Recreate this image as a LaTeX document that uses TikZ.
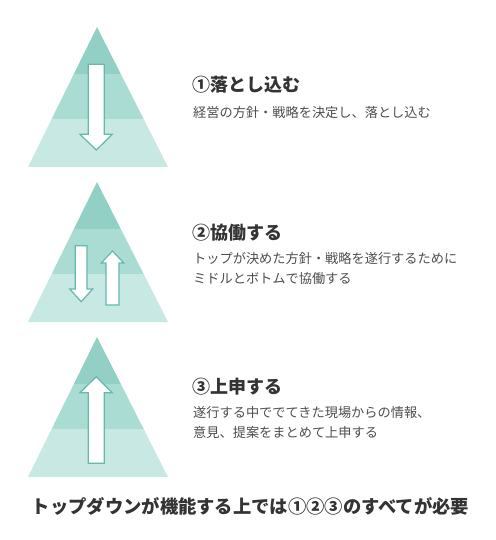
\documentclass[tikz,border=0pt]{standalone}
\usepackage{fontspec}
\setmainfont{Noto Sans CJK JP}
\usetikzlibrary{positioning}

\definecolor{bandtop}{HTML}{92CFC5}
\definecolor{bandmid}{HTML}{AADCD4}
\definecolor{bandlow}{HTML}{C8E8E3}
\definecolor{arrowline}{HTML}{66B8AA}
\definecolor{inkdark}{HTML}{333333}
\definecolor{inkgray}{HTML}{4D4D4D}

\begin{document}
\begin{tikzpicture}[x=1pt, y=-1pt,
	blockarrow/.style={draw=arrowline, fill=white, line width=1.2pt, line join=miter},
	titel/.style={anchor=west, inner sep=0pt, text=inkdark, font=\fontsize{18}{20}\selectfont\bfseries},
	beschr/.style={anchor=west, inner sep=0pt, text=inkgray, align=left, font=\fontsize{13.2}{20}\selectfont}]
	\useasboundingbox (0,0) rectangle (495,540);

	% pyramids
	\foreach \top in {27, 182, 337} {
		\begin{scope}
			\clip (97,\top) -- (168,\top+140) -- (28,\top+140) -- cycle;
			\fill[bandtop] (20,\top) rectangle (175,\top+47);
			\fill[bandmid] (20,\top+47) rectangle (175,\top+92);
			\fill[bandlow] (20,\top+92) rectangle (175,\top+141);
		\end{scope}
	}

	% arrows
	\draw[blockarrow] (88.3,64.3) -- (104.3,64.3) -- (104.3,134.3) -- (112.3,134.3)
		-- (96.3,150) -- (80,134.3) -- (88.3,134.3) -- cycle;
	\draw[blockarrow] (75.3,245.7) -- (87,245.7) -- (87,289) -- (92.7,289)
		-- (81.2,301.7) -- (69.7,289) -- (75.3,289) -- cycle;
	\draw[blockarrow] (106,305) -- (119,305) -- (119,263) -- (123.7,263)
		-- (112.5,251) -- (101.3,263) -- (106,263) -- cycle;
	\draw[blockarrow] (88.3,463.3) -- (104.3,463.3) -- (104.3,392.7) -- (112.3,392.7)
		-- (96.3,376.7) -- (80,392.7) -- (88.3,392.7) -- cycle;

	% texts
	\node[titel] (schritt1) at (192,85) {①落とし込む};
	\node[beschr] (text1) at (193,112.7) {経営の方針・戦略を決定し、落とし込む};
	\node[titel] (schritt2) at (192,232.7) {②協働する};
	\node[beschr] (text2) at (193,268.3) {トップが決めた方針・戦略を遂行するために\\ミドルとボトムで協働する};
	\node[titel] (schritt3) at (192,386.7) {③上申する};
	\node[beschr] (text3) at (193,422.5) {遂行する中ででてきた現場からの情報、\\意見、提案をまとめて上申する};

	\node[anchor=center, inner sep=0pt, text=inkdark, font=\fontsize{18.3}{20}\selectfont\bfseries]
		(fazit) at (250.5,506.7) {トップダウンが機能する上では①②③のすべてが必要};
\end{tikzpicture}
\end{document}
